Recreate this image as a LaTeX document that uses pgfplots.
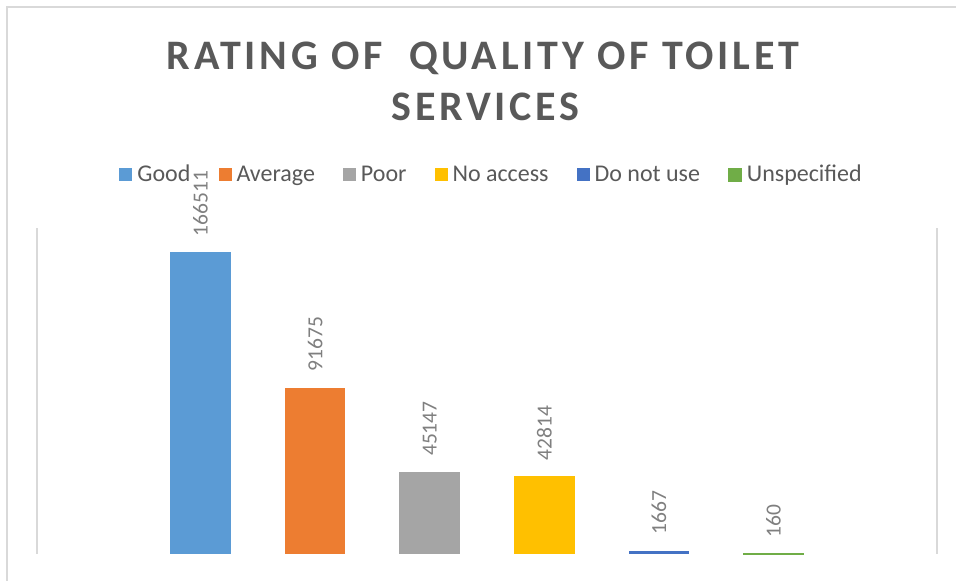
\documentclass[border=0pt]{standalone}
\usepackage{fontspec}
\setmainfont{Carlito}
\newfontfamily\titlefont[LetterSpace=9]{Carlito}
\usepackage{pgfplots}
\pgfplotsset{compat=1.18}
\definecolor{cGood}{HTML}{5B9BD5}
\definecolor{cAvg}{HTML}{ED7D31}
\definecolor{cPoor}{HTML}{A5A5A5}
\definecolor{cNoAcc}{HTML}{FFC000}
\definecolor{cDoNot}{HTML}{4472C4}
\definecolor{cUnspec}{HTML}{70AD47}
\definecolor{titlec}{HTML}{595959}
\definecolor{labelc}{HTML}{7F7F7F}
\definecolor{linec}{HTML}{D9D9D9}
\pgfplotsset{
  mybar/.style={ybar, bar shift=0pt, bar width=0.53, fill=#1, draw=none,
    legend image code/.code={\fill[##1] (0pt,-3.25pt) rectangle (6.5pt,3.25pt);},
    nodes near coords,
    every node near coord/.append style={rotate=90, anchor=west, inner xsep=8pt, inner ysep=0pt,
      font=\fontsize{10.75}{12}\selectfont, text=labelc}
  }
}
\begin{document}
\begin{tikzpicture}
\path[use as bounding box] (-18.5pt,-13.5pt) rectangle (459.5pt,277pt);
\draw[linec, line width=1pt] (-15pt,-14pt) -- (-15pt,273.25pt) -- (460pt,273.25pt);
\begin{axis}[
  at={(0pt,0pt)}, anchor=south west,
  scale only axis, width=450pt, height=163pt,
  xmin=-1.427, xmax=6.427, ymin=0, ymax=180000,
  hide axis, clip=false,
  point meta=explicit symbolic,
  legend columns=6,
  legend style={draw=none, fill=none, inner sep=0pt, at={(0.504,1.163)}, anchor=center,
    font=\fontsize{12}{14}\selectfont, text=titlec,
    nodes={inner sep=0pt},
    /tikz/every odd column/.append style={column sep=2.5pt},
    /tikz/every even column/.append style={column sep=14pt}},
]
\draw[linec, line width=0.9pt] (rel axis cs:0,0) -- (rel axis cs:0,1);
\draw[linec, line width=0.9pt] (rel axis cs:1,0) -- (rel axis cs:1,1);
\node[anchor=base, font=\titlefont\bfseries\fontsize{21}{25}\selectfont, text=titlec]
  at (rel axis cs:0.4956,1.4847) {RATING OF\ \ QUALITY OF TOILET};
\node[anchor=base, font=\titlefont\bfseries\fontsize{21}{25}\selectfont, text=titlec]
  at (rel axis cs:0.4983,1.3282) {SERVICES};
\addplot[mybar=cGood] coordinates {(0,166511) [166511]};
\addlegendentry{Good}
\addplot[mybar=cAvg] coordinates {(1,91675) [91675]};
\addlegendentry{Average}
\addplot[mybar=cPoor] coordinates {(2,45147) [45147]};
\addlegendentry{Poor}
\addplot[mybar=cNoAcc] coordinates {(3,42814) [42814]};
\addlegendentry{No access}
\addplot[mybar=cDoNot] coordinates {(4,1667) [1667]};
\addlegendentry{Do not use}
\addplot[mybar=cUnspec, draw=cUnspec, line width=0.4pt] coordinates {(5,160) [160]};
\addlegendentry{Unspecified}
\end{axis}
\end{tikzpicture}
\end{document}
